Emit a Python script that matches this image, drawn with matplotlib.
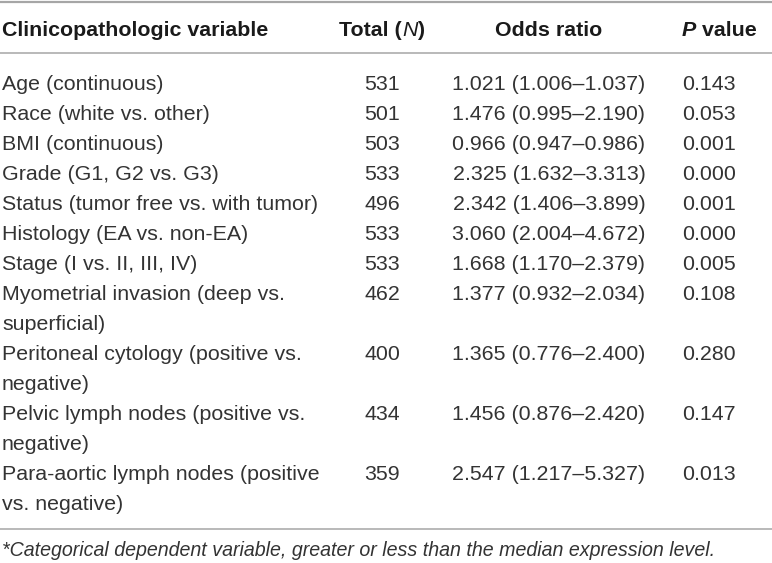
#!/usr/bin/env python3
"""Univariate logistic regression table rendered with matplotlib."""

import matplotlib
matplotlib.use('Agg')
import matplotlib.pyplot as plt

plt.rcParams['font.family'] = ['Liberation Sans', 'DejaVu Sans']

# --- table content ---
variables = [
    ["Age (continuous)"],
    ["Race (white vs. other)"],
    ["BMI (continuous)"],
    ["Grade (G1, G2 vs. G3)"],
    ["Status (tumor free vs. with tumor)"],
    ["Histology (EA vs. non-EA)"],
    ["Stage (I vs. II, III, IV)"],
    ["Myometrial invasion (deep vs.", "superficial)"],
    ["Peritoneal cytology (positive vs.", "negative)"],
    ["Pelvic lymph nodes (positive vs.", "negative)"],
    ["Para-aortic lymph nodes (positive", "vs. negative)"],
]
totals = [531, 501, 503, 533, 496, 533, 533, 462, 400, 434, 359]
odds = [1.021, 1.476, 0.966, 2.325, 2.342, 3.060, 1.668, 1.377, 1.365, 1.456, 2.547]
ci_low = [1.006, 0.995, 0.947, 1.632, 1.406, 2.004, 1.170, 0.932, 0.776, 0.876, 1.217]
ci_high = [1.037, 2.190, 0.986, 3.313, 3.899, 4.672, 2.379, 2.034, 2.400, 2.420, 5.327]
p_values = ["0.143", "0.053", "0.001", "0.000", "0.001", "0.000", "0.005",
            "0.108", "0.280", "0.147", "0.013"]
footnote = "*Categorical dependent variable, greater or less than the median expression level."

# --- layout (pixels) ---
W, H = 772, 563
FS = 15.4          # body font size (pt)
FS_NOTE = 14.1
TXT = '#333333'
RULE = '#a6a6a6'
X_VAR, X_TOT, X_OR, X_P = 2, 382, 549, 682
Y_HEAD = 29
Y_FIRST = 82
LINE_H = 30
BASE = 7.5         # offset from visual centre to baseline

fig = plt.figure(figsize=(W / 100, H / 100), dpi=100)
ax = fig.add_axes([0, 0, 1, 1])
ax.set_xlim(0, W)
ax.set_ylim(H, 0)
ax.axis('off')
renderer = fig.canvas.get_renderer()


def pieces(x, y, parts, ha='left'):
    """Draw a run of differently styled text pieces on one baseline."""
    objs = []
    for s, style, weight in parts:
        objs.append(ax.text(0, y, s, fontsize=FS, fontstyle=style, fontweight=weight,
                            color='#1a1a1a', va='baseline'))
    widths = [o.get_window_extent(renderer).width for o in objs]
    total = sum(widths)
    start = x - total / 2 if ha == 'center' else x
    for o, w in zip(objs, widths):
        o.set_x(start)
        start += w


# rules
ax.axhline(1.5, color=RULE, lw=1.6)
ax.axhline(53, color=RULE, lw=1.1)
ax.axhline(528.5, color=RULE, lw=1.1)

# header
yb = Y_HEAD + BASE
pieces(X_VAR, yb, [("Clinicopathologic variable", 'normal', 'bold')])
pieces(X_TOT, yb, [("Total (", 'normal', 'bold'), ("N", 'italic', 'normal'),
                   (")", 'normal', 'bold')], ha='center')
pieces(X_OR, yb, [("Odds ratio", 'normal', 'bold')], ha='center')
pieces(X_P, yb, [("P", 'italic', 'bold'), (" value", 'normal', 'bold')])

# body
line = 0
for lines, n, o, lo, hi, p in zip(variables, totals, odds, ci_low, ci_high, p_values):
    y0 = Y_FIRST + line * LINE_H + BASE
    for k, s in enumerate(lines):
        ax.text(X_VAR, y0 + k * LINE_H, s, fontsize=FS, color=TXT, va='baseline')
    ax.text(X_TOT, y0, str(n), fontsize=FS, color=TXT, ha='center', va='baseline')
    ax.text(X_OR, y0, f"{o:.3f} ({lo:.3f}\u2013{hi:.3f})", fontsize=FS, color=TXT,
            ha='center', va='baseline')
    ax.text(X_P, y0, p, fontsize=FS, color=TXT, va='baseline')
    line += len(lines)

ax.text(X_VAR, 555.5, footnote, fontsize=FS_NOTE, fontstyle='italic', color=TXT,
        va='baseline')

fig.savefig('out.png', dpi=100)
